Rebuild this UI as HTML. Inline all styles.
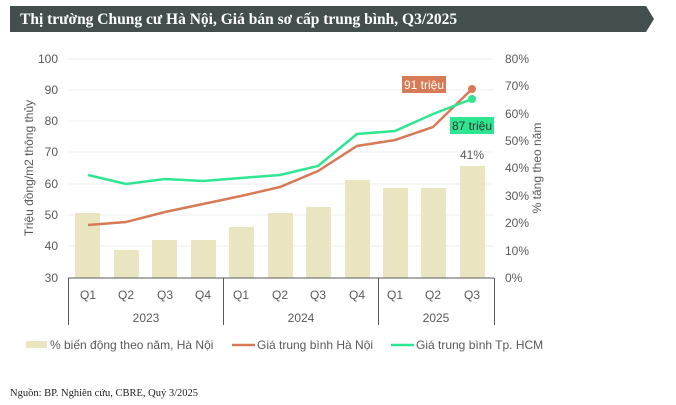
<!DOCTYPE html>
<html><head><meta charset="utf-8"><style>
body{margin:0;background:#fff;width:676px;height:405px;overflow:hidden}
svg{display:block}
</style></head><body>
<svg width="676" height="405" viewBox="0 0 676 405" xmlns="http://www.w3.org/2000/svg">
<polygon points="10,6 646,6 654,19 646,32 10,32" fill="#434f4e"/>
<text x="20" y="24" font-family="Liberation Serif, serif" font-weight="bold" font-size="15.5" fill="#fff">Thị trường Chung cư Hà Nội, Giá bán sơ cấp trung bình, Q3/2025</text>
<g stroke="#eeeeee" stroke-width="1">
<line x1="68" x2="494" y1="59" y2="59"/><line x1="68" x2="494" y1="90" y2="90"/><line x1="68" x2="494" y1="121" y2="121"/><line x1="68" x2="494" y1="152" y2="152"/><line x1="68" x2="494" y1="184" y2="184"/><line x1="68" x2="494" y1="215" y2="215"/><line x1="68" x2="494" y1="246" y2="246"/>
</g>
<g font-family="Liberation Sans, sans-serif" font-size="12" fill="#595959" text-anchor="end">
<text x="58" y="63">100</text><text x="58" y="94">90</text><text x="58" y="125">80</text><text x="58" y="156">70</text><text x="58" y="188">60</text><text x="58" y="219">50</text><text x="58" y="250">40</text><text x="58" y="282">30</text>
</g>
<g font-family="Liberation Sans, sans-serif" font-size="12" fill="#595959">
<text x="505" y="63">80%</text><text x="505" y="90">70%</text><text x="505" y="118">60%</text><text x="505" y="145">50%</text><text x="505" y="172">40%</text><text x="505" y="200">30%</text><text x="505" y="227">20%</text><text x="505" y="255">10%</text><text x="505" y="282">0%</text>
</g>
<text transform="translate(33,168) rotate(-90)" text-anchor="middle" font-family="Liberation Sans, sans-serif" font-size="12" fill="#595959">Triệu đồng/m2 thông thủy</text>
<text transform="translate(541,168) rotate(-90)" text-anchor="middle" font-family="Liberation Sans, sans-serif" font-size="12" fill="#595959">% tăng theo năm</text>
<g fill="#e9e5c1">
<rect x="75" y="213" width="25" height="65"/><rect x="114" y="250" width="25" height="28"/><rect x="152" y="240" width="25" height="38"/><rect x="191" y="240" width="25" height="38"/><rect x="229" y="227" width="25" height="51"/><rect x="268" y="213" width="25" height="65"/><rect x="306" y="207" width="25" height="71"/><rect x="345" y="180" width="25" height="98"/><rect x="383" y="188" width="25" height="90"/><rect x="421" y="188" width="25" height="90"/><rect x="460" y="166" width="25" height="112"/>
</g>
<polyline fill="none" stroke="#d77a56" stroke-width="2.5" points="88,225 126,222 165,212 203,204 241,196 280,187 318,171 357,146 395,140 433,127 472,89"/>
<circle cx="472" cy="89" r="4" fill="#d77a56"/>
<polyline fill="none" stroke="#2ee68f" stroke-width="2.5" points="88,175 126,184 165,179 203,181 241,178 280,175 318,166 357,134 395,131 433,114 472,99"/>
<circle cx="472" cy="99" r="4" fill="#2ee68f"/>
<rect x="402" y="76" width="44" height="17" fill="#d77a56"/>
<text x="424" y="89" text-anchor="middle" font-family="Liberation Sans, sans-serif" font-size="12" fill="#fff">91 triệu</text>
<rect x="450" y="117" width="44" height="17" fill="#2ee68f"/>
<text x="472" y="130" text-anchor="middle" font-family="Liberation Sans, sans-serif" font-size="12" fill="#333">87 triệu</text>
<text x="472" y="159" text-anchor="middle" font-family="Liberation Sans, sans-serif" font-size="12" fill="#595959">41%</text>
<g stroke="#595959" stroke-width="1">
<line x1="68" x2="494" y1="278" y2="278"/>
<line x1="68.5" x2="68.5" y1="278" y2="325"/><line x1="223.5" x2="223.5" y1="278" y2="325"/><line x1="378.5" x2="378.5" y1="278" y2="325"/><line x1="494.5" x2="494.5" y1="278" y2="325"/>
</g>
<g font-family="Liberation Sans, sans-serif" font-size="12" fill="#595959" text-anchor="middle">
<text x="88" y="299">Q1</text><text x="126" y="299">Q2</text><text x="165" y="299">Q3</text><text x="203" y="299">Q4</text><text x="241" y="299">Q1</text><text x="280" y="299">Q2</text><text x="318" y="299">Q3</text><text x="357" y="299">Q4</text><text x="395" y="299">Q1</text><text x="433" y="299">Q2</text><text x="472" y="299">Q3</text>
<text x="146" y="322">2023</text><text x="301" y="322">2024</text><text x="436" y="322">2025</text>
</g>
<rect x="26" y="341" width="21" height="7" fill="#e9e5c1"/>
<line x1="232" x2="255" y1="345" y2="345" stroke="#d77a56" stroke-width="2.5"/>
<line x1="391" x2="414" y1="345" y2="345" stroke="#2ee68f" stroke-width="2.5"/>
<g font-family="Liberation Sans, sans-serif" font-size="12" fill="#595959">
<text x="50" y="349">% biến động theo năm, Hà Nội</text>
<text x="257" y="349">Giá trung bình Hà Nội</text>
<text x="416" y="349">Giá trung bình Tp. HCM</text>
</g>
<text x="10" y="396" font-family="Liberation Serif, serif" font-size="10.5" fill="#222">Nguồn: BP. Nghiên cứu, CBRE, Quý 3/2025</text>
</svg>
</body></html>
